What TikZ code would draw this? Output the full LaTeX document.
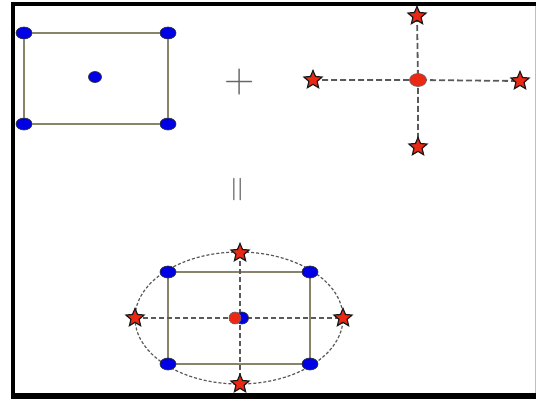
\documentclass[tikz,border=0pt]{standalone}
\usetikzlibrary{shapes.geometric}
\definecolor{sqcol}{RGB}{135,132,105}
\definecolor{starred}{RGB}{235,40,20}
\begin{document}
\begin{tikzpicture}[x=1pt,y=-1pt,
  sqline/.style={draw=sqcol, line width=2pt},
  dline/.style={draw=black!65, dash pattern=on 6pt off 3pt, line width=1.8pt},
  cline/.style={draw=black!65, dash pattern=on 5pt off 3pt, line width=1.4pt},
  bdot/.style={ellipse, draw=black!80, fill=blue!90!black, line width=0.7pt, minimum width=16pt, minimum height=12pt, inner sep=0pt},
  rstar/.style={star, star points=5, star point ratio=2.2, draw=black!90, fill=starred, line width=1.2pt, minimum size=19pt, inner sep=0pt},
  rdot/.style={ellipse, draw=black!60, fill=starred, line width=0.6pt, minimum width=17pt, minimum height=13pt, inner sep=0pt},
  op/.style={text=black!60, inner sep=0pt}]
\useasboundingbox (0,0) rectangle (536,399);
\fill[white] (0,0) rectangle (536,399);
% frame
\draw[line width=4pt] (13,4) -- (536,4);
\draw[line width=4pt] (13,2) -- (13,399);
\draw[line width=6pt] (11,396) -- (536,396);
\draw[black!25, line width=1pt] (535,6) -- (535,393);

% top-left square
\node[bdot] (a1) at (24,33) {};
\node[bdot] (a2) at (168,33) {};
\node[bdot] (a3) at (168,124) {};
\node[bdot] (a4) at (24,124) {};
\draw[sqline] (a1) -- (a2) -- (a3) -- (a4) -- (a1);
\node[bdot, minimum width=13pt, minimum height=11pt] (ac) at (95,77) {};

% plus
\node[op, font=\fontsize{42}{42}\selectfont] (plus) at (240,82) {+};

% cross
\coordinate (bc0) at (418,80);
\coordinate (bt0) at (417,16);
\coordinate (bl0) at (313,80);
\coordinate (br0) at (520,81);
\coordinate (bb0) at (418,147);
\draw[dline] (bl0) -- (bc0) -- (br0);
\draw[dline] (bt0) -- (bc0) -- (bb0);
\node[rdot] (bc) at (bc0) {};
\node[rstar] (bt) at (bt0) {};
\node[rstar] (bl) at (bl0) {};
\node[rstar] (br) at (br0) {};
\node[rstar] (bb) at (bb0) {};

% equals
\node[op, rotate=90, font=\fontsize{36}{36}\selectfont] (eq) at (240,190) {=};

% bottom combined
\coordinate (cc) at (239,318);
\draw[cline, line width=1.2pt, dash pattern=on 3pt off 2pt] (cc) ellipse [x radius=104pt, y radius=66pt];
\coordinate (ct0) at (240,253);
\coordinate (cl0) at (135,318);
\coordinate (cr0) at (343,318);
\coordinate (cb0) at (240,384);
\draw[sqline] (168,272) rectangle (310,364);
\draw[cline] (cl0) -- (cr0);
\draw[cline] (ct0) -- (cb0);
\node[bdot] (c1) at (168,272) {};
\node[bdot] (c2) at (310,272) {};
\node[bdot] (c3) at (310,364) {};
\node[bdot] (c4) at (168,364) {};
\node[bdot, minimum width=13pt] (cbd) at (242,318) {};
\node[rdot, minimum width=12pt, minimum height=12pt] (crd) at (235,318) {};
\node[rstar] (ct) at (ct0) {};
\node[rstar] (cl) at (cl0) {};
\node[rstar] (cr) at (cr0) {};
\node[rstar] (cb) at (cb0) {};
\end{tikzpicture}
\end{document}
